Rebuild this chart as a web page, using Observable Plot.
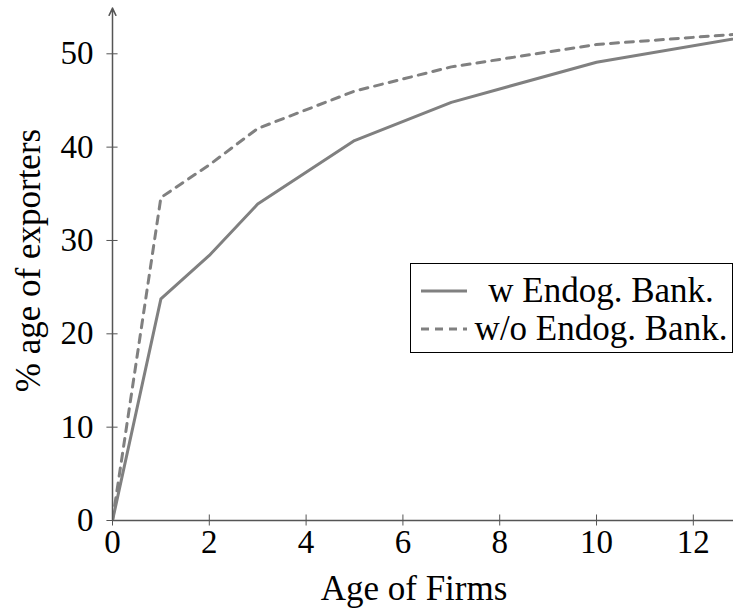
<!DOCTYPE html>
<html>
<head>
<meta charset="utf-8">
<script src="https://cdn.jsdelivr.net/npm/d3@7"></script>
<script src="https://cdn.jsdelivr.net/npm/@observablehq/plot@0.6"></script>
<style>
  body { margin: 0; background: #fff; }
  #wrap { position: relative; width: 733px; height: 609px; font-family: "Liberation Serif", "DejaVu Serif", serif; }
  #legend { position: absolute; left: 410px; top: 263px; width: 321px; height: 88px; border: 1px solid #000; background: #fff; box-sizing: content-box; }
  .row { position: absolute; left: 0; width: 321px; height: 38px; }
  .row svg { position: absolute; left: 9px; top: 0; }
  .row span { position: absolute; left: 190px; transform: translateX(-50%); white-space: nowrap; font-size: 35px; line-height: 38px; color: #000; }
</style>
</head>
<body>
<div id="wrap"></div>
<script>
const ages = [0, 1, 2, 3, 5, 7, 10, 15];
const withBank = [0, 23.75, 28.4, 33.9, 40.7, 44.8, 49.1, 53.5];
const withoutBank = [0, 34.6, 38.1, 42.0, 46.0, 48.6, 51.0, 52.9];
const xTicks = [0, 2, 4, 6, 8, 10, 12];
const yTicks = [0, 10, 20, 30, 40, 50];
const seriesNames = ["w Endog. Bank.", "w/o Endog. Bank."];
const xLabel = "Age of Firms";
const yLabel = "% age of exporters";

const rowsW = ages.map((a, i) => ({age: a, pct: withBank[i]}));
const rowsWo = ages.map((a, i) => ({age: a, pct: withoutBank[i]}));

const font = "Liberation Serif, DejaVu Serif, serif";
const axisColor = "#555";
const lineColor = "#808080";

const chart = Plot.plot({
  width: 733,
  height: 609,
  marginLeft: 112,
  marginRight: 0,
  marginTop: 0,
  marginBottom: 89,
  style: {fontFamily: font, background: "transparent", overflow: "visible"},
  x: {domain: [0, 12.83]},
  y: {domain: [0, 55.71]},
  marks: [
    Plot.axisX({ticks: xTicks, tickSize: 0, tickPadding: 9, fontSize: 33, label: null, color: "#000"}),
    Plot.axisY({ticks: yTicks, tickSize: 0, tickPadding: 19, fontSize: 33, label: null, color: "#000"}),
    Plot.text([xLabel], {text: d => d, frameAnchor: "bottom", dy: 68, dx: -9, textAnchor: "middle", lineAnchor: "middle", fontSize: 35, fill: "#000"}),
    Plot.text([yLabel], {text: d => d, frameAnchor: "left", dx: -84, rotate: -90, textAnchor: "middle", lineAnchor: "middle", fontSize: 35, fill: "#000"}),
    Plot.ruleX(xTicks, {x: d => d, y1: -0.59, y2: 0.59, stroke: axisColor, strokeWidth: 1}),
    Plot.ruleY(yTicks, {y: d => d, x1: -0.115, x2: 0.115, stroke: axisColor, strokeWidth: 1}),
    Plot.ruleY([0], {x1: 0, x2: 12.83, stroke: axisColor, strokeWidth: 1.5}),
    Plot.line(rowsWo, {x: "age", y: "pct", stroke: lineColor, strokeWidth: 3, strokeDasharray: "8,7", clip: true}),
    Plot.line(rowsW, {x: "age", y: "pct", stroke: lineColor, strokeWidth: 3, clip: true}),
    Plot.arrow([0], {x1: 0, x2: 0, y1: 0, y2: 54.9, stroke: axisColor, strokeWidth: 1.5, headLength: 8, headAngle: 50})
  ]
});

const wrap = document.getElementById("wrap");
wrap.appendChild(chart);

const legend = document.createElement("div");
legend.id = "legend";
const dashes = ["none", "8,6"];
seriesNames.forEach((name, i) => {
  const row = document.createElement("div");
  row.className = "row";
  row.style.top = (8 + i * 38) + "px";
  row.innerHTML = `<svg width="50" height="38"><line x1="1" x2="47" y1="19" y2="19" stroke="${lineColor}" stroke-width="3" stroke-dasharray="${dashes[i]}"/></svg><span>${name}</span>`;
  legend.appendChild(row);
});
wrap.appendChild(legend);
</script>
</body>
</html>
